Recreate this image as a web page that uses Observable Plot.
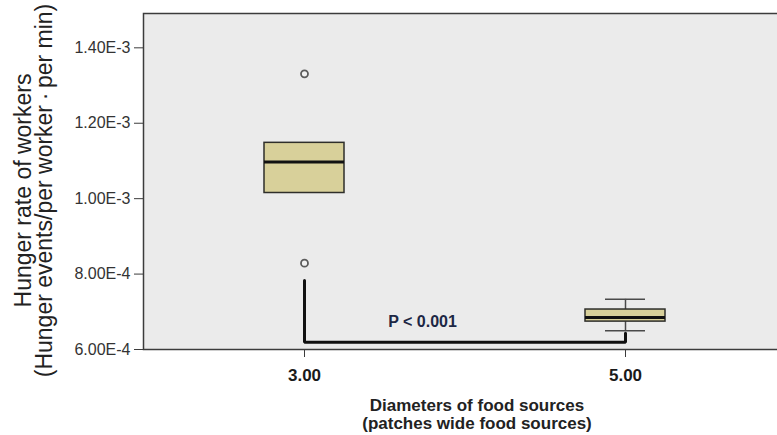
<!DOCTYPE html>
<html>
<head>
<meta charset="utf-8">
<script src="https://cdn.jsdelivr.net/npm/d3@7"></script>
<script src="https://cdn.jsdelivr.net/npm/@observablehq/plot@0.6"></script>
<style>
  html, body { margin: 0; padding: 0; background: #ffffff; overflow: hidden; }
  #chart { width: 777px; height: 435px; overflow: hidden; }
  #chart svg { max-width: none !important; }
</style>
</head>
<body>
<div id="chart"></div>
<script>
// ---- data ----
const categories = ["3.00", "5.00"];
const q1 = [1.015e-3, 6.74e-4];
const median = [1.097e-3, 6.85e-4];
const q3 = [1.148e-3, 7.06e-4];
const whiskerLow = [1.015e-3, 6.50e-4];
const whiskerHigh = [1.148e-3, 7.33e-4];

const outlierCategory = ["3.00", "3.00"];
const outlierValue = [1.331e-3, 8.29e-4];

const yTicks = [6e-4, 8e-4, 1e-3, 1.2e-3, 1.4e-3];
const yTickLabels = ["6.00E-4", "8.00E-4", "1.00E-3", "1.20E-3", "1.40E-3"];

const bracketCategory = ["3.00", "3.00", "5.00", "5.00"];
const bracketValue = [7.83e-4, 6.19e-4, 6.19e-4, 6.43e-4];

const pLabel = "P < 0.001";
const pLabelCategory = "3.00";
const pLabelValue = 6.72e-4;

const yTitle = "Hunger rate of workers\n(Hunger events/per worker\u2009\u00B7\u2009per min)";
const xTitle = "Diameters of food sources\n(patches wide food sources)";

// ---- tables built from the arrays ----
const boxes = categories.map((c, i) => ({
  cat: c, q1: q1[i], med: median[i], q3: q3[i], lo: whiskerLow[i], hi: whiskerHigh[i]
}));
const withWhiskers = boxes.filter(d => d.lo < d.q1 || d.hi > d.q3);
const outliers = outlierCategory.map((c, i) => ({cat: c, v: outlierValue[i]}));
const bracket = bracketCategory.map((c, i) => ({cat: c, v: bracketValue[i]}));

const font = "'Liberation Sans', Arial, Helvetica, sans-serif";

const chart = Plot.plot({
  width: 790,
  height: 435,
  marginLeft: 143,
  marginRight: 4,
  marginTop: 13,
  marginBottom: 86,
  style: {fontFamily: font, background: "#ffffff", overflow: "visible", maxWidth: "none"},
  x: {type: "band", domain: categories, paddingInner: 0.751, paddingOuter: 0.3755, align: 0.5, axis: null},
  y: {domain: [6e-4, 1.491e-3], axis: null},
  marks: [
    Plot.frame({fill: "#ebebeb", stroke: "none"}),
    // whiskers
    Plot.ruleX(withWhiskers, {x: "cat", y1: "q3", y2: "hi", stroke: "#4a4a4a", strokeWidth: 1.5}),
    Plot.ruleX(withWhiskers, {x: "cat", y1: "lo", y2: "q1", stroke: "#4a4a4a", strokeWidth: 1.5}),
    Plot.tickY(withWhiskers, {x: "cat", y: "hi", stroke: "#4a4a4a", strokeWidth: 1.5, insetLeft: 20, insetRight: 20}),
    Plot.tickY(withWhiskers, {x: "cat", y: "lo", stroke: "#4a4a4a", strokeWidth: 1.5, insetLeft: 20, insetRight: 20}),
    // boxes
    Plot.barY(boxes, {x: "cat", y1: "q1", y2: "q3", fill: "#d8d09a", stroke: "#2e2e2a", strokeWidth: 1.5}),
    Plot.tickY(boxes, {x: "cat", y: "med", stroke: "#111111", strokeWidth: 3}),
    // outliers
    Plot.dot(outliers, {x: "cat", y: "v", r: 3.5, stroke: "#5c5c5c", strokeWidth: 1.8, fill: "#f2f2f2"}),
    // significance bracket
    Plot.line(bracket, {x: "cat", y: "v", stroke: "#111111", strokeWidth: 3, strokeLinejoin: "miter", curve: "linear"}),
    Plot.text([pLabel], {x: () => pLabelCategory, y: () => pLabelValue, text: d => d, dx: 118,
      fontSize: 16, fontWeight: "bold", fill: "#1c2744", textAnchor: "middle", lineAnchor: "middle"}),
    // frame
    Plot.frame({stroke: "#3c3c3c", strokeWidth: 1.5}),
    // axes
    Plot.axisY(yTicks, {tickSize: 9, tickPadding: 4, fontSize: 16, fill: "#333333", stroke: "#3c3c3c",
      tickFormat: d => yTickLabels[yTicks.indexOf(d)], label: null}),
    Plot.axisX({tickSize: 8, tickPadding: 11, fontSize: 17, fontWeight: "bold", fill: "#1a1a1a", stroke: "#3c3c3c", label: null}),
    // axis titles
    Plot.text([xTitle], {frameAnchor: "bottom", text: d => d, dy: 49, dx: 12, fontSize: 17, fontWeight: "bold",
      fill: "#222222", lineAnchor: "top", lineHeight: 1.05, textAnchor: "middle"}),
    Plot.text([yTitle], {frameAnchor: "left", text: d => d, dx: -109, dy: 9, rotate: -90, fontSize: 23,
      fill: "#222222", lineAnchor: "middle", lineHeight: 0.92, textAnchor: "middle"})
  ]
});

document.getElementById("chart").appendChild(chart);
</script>
</body>
</html>
